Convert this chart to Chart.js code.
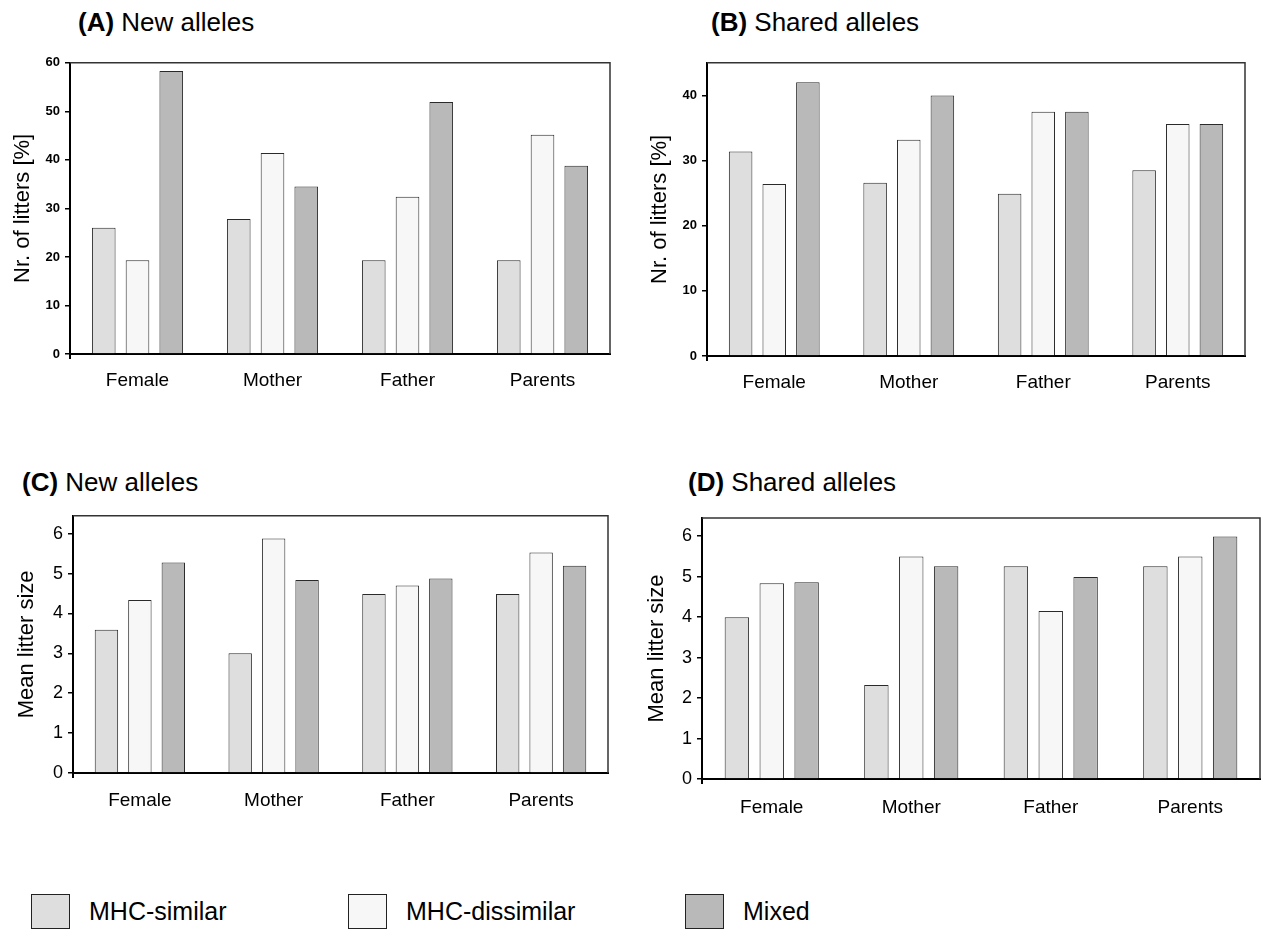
<!DOCTYPE html>
<html>
<head>
<meta charset="utf-8">
<script src="https://cdn.jsdelivr.net/npm/chart.js@4.4.1/dist/chart.umd.min.js"></script>
<style>
  body { margin: 0; background: #fff; width: 1262px; height: 930px; position: relative; overflow: hidden;
         font-family: "Liberation Sans", Arial, sans-serif; color: #000; }
  .panel { position: absolute; }
  .ttl { position: absolute; font-size: 26px; white-space: nowrap; line-height: 1; }
  .ttl b { font-weight: bold; }
  .leg { position: absolute; top: 894px; height: 35px; }
  .leg .box { position: absolute; left: 0; top: 0; width: 37px; height: 33px; border: 1px solid #222; }
  .leg .txt { position: absolute; top: 3px; font-size: 25px; white-space: nowrap; }
</style>
</head>
<body>
<div class="ttl" style="left:78px; top:9px;"><b>(A)</b> New alleles</div>
<div class="ttl" style="left:711px; top:9px;"><b>(B)</b> Shared alleles</div>
<div class="ttl" style="left:22px; top:469px;"><b>(C)</b> New alleles</div>
<div class="ttl" style="left:688px; top:469px;"><b>(D)</b> Shared alleles</div>

<canvas id="chartA" class="panel" style="left:0px; top:50px;" width="620" height="360"></canvas>
<canvas id="chartB" class="panel" style="left:637px; top:50px;" width="620" height="360"></canvas>
<canvas id="chartC" class="panel" style="left:0px; top:500px;" width="620" height="340"></canvas>
<canvas id="chartD" class="panel" style="left:632px; top:500px;" width="630" height="340"></canvas>

<div id="legend"></div>

<script>
// categories and groups
const categories = ["Female", "Mother", "Father", "Parents"];
const groupLabels = ["MHC-similar", "MHC-dissimilar", "Mixed"];
const groupColors = ["#dedede", "#f7f7f7", "#b9b9b9"];

// (A) new alleles, % of litters
const aSimilar = [26.0, 27.8, 19.3, 19.3];
const aDissimilar = [19.3, 41.4, 32.4, 45.2];
const aMixed = [58.3, 34.5, 51.9, 38.8];

// (B) shared alleles, % of litters
const bSimilar = [31.4, 26.6, 24.9, 28.5];
const bDissimilar = [26.4, 33.2, 37.5, 35.6];
const bMixed = [42.0, 40.0, 37.5, 35.6];

// (C) new alleles, mean litter size
const cSimilar = [3.59, 3.0, 4.49, 4.49];
const cDissimilar = [4.34, 5.88, 4.70, 5.53];
const cMixed = [5.28, 4.84, 4.88, 5.20];

// (D) shared alleles, mean litter size
const dSimilar = [4.0, 2.32, 5.26, 5.26];
const dDissimilar = [4.84, 5.5, 4.15, 5.5];
const dMixed = [4.86, 5.26, 4.99, 5.99];

// top/right frame + small tick under the y axis
const framePlugin = {
  id: "frame",
  afterDraw(chart) {
    const { ctx, chartArea: a } = chart;
    ctx.save();
    ctx.strokeStyle = "#333";
    ctx.lineWidth = 1.5;
    ctx.beginPath();
    ctx.moveTo(a.left, a.top);
    ctx.lineTo(a.right, a.top);
    ctx.lineTo(a.right, a.bottom);
    ctx.stroke();
    ctx.strokeStyle = "#000";
    ctx.lineWidth = 2;
    ctx.beginPath();
    ctx.moveTo(a.left, a.bottom);
    ctx.lineTo(a.left, a.bottom + 5);
    ctx.stroke();
    ctx.restore();
  }
};

function makeChart(id, values, opt) {
  const ctx = document.getElementById(id).getContext("2d");
  return new Chart(ctx, {
    type: "bar",
    data: {
      labels: categories,
      datasets: values.map((v, i) => ({
        label: groupLabels[i],
        data: v,
        backgroundColor: groupColors[i],
        borderColor: "#2a2a2a",
        borderWidth: 1,
        borderSkipped: "bottom",
        categoryPercentage: 0.75,
        barPercentage: 0.7
      }))
    },
    options: {
      responsive: false,
      animation: false,
      layout: { padding: { top: opt.padTop, right: opt.padRight, left: 0, bottom: 0 } },
      plugins: { legend: { display: false }, tooltip: { enabled: false } },
      scales: {
        x: {
          grid: { display: false },
          border: { color: "#000", width: 2 },
          ticks: { color: "#000", padding: opt.xPad, font: { family: "Liberation Sans", size: 19 } },
          afterFit: s => { s.height = opt.xHeight; }
        },
        y: {
          min: 0,
          max: opt.max,
          grid: { drawOnChartArea: false, drawTicks: true, tickLength: 5, color: "#000", lineWidth: 1.5 },
          border: { color: "#000", width: 2 },
          ticks: {
            stepSize: opt.step,
            includeBounds: false,
            color: "#000",
            padding: 5,
            font: opt.tickFont
          },
          title: {
            display: true,
            text: opt.yTitle,
            color: "#000",
            padding: { top: opt.titlePad, bottom: 0 },
            font: { family: "Liberation Sans", size: 22 }
          },
          afterFit: s => { s.width = opt.yWidth; }
        }
      }
    },
    plugins: [framePlugin]
  });
}

const smallBold = { family: "Liberation Sans", size: 13, weight: "bold" };
const bigPlain = { family: "Liberation Sans", size: 18 };

makeChart("chartA", [aSimilar, aDissimilar, aMixed], {
  max: 60, step: 10, yTitle: "Nr. of litters [%]", tickFont: smallBold,
  padTop: 11, padRight: 10, yWidth: 70, xHeight: 56, xPad: 7, titlePad: 10
});
makeChart("chartB", [bSimilar, bDissimilar, bMixed], {
  max: 45, step: 10, yTitle: "Nr. of litters [%]", tickFont: smallBold,
  padTop: 11, padRight: 12, yWidth: 70, xHeight: 54, xPad: 7, titlePad: 10
});
makeChart("chartC", [cSimilar, cDissimilar, cMixed], {
  max: 6.45, step: 1, yTitle: "Mean litter size", tickFont: bigPlain,
  padTop: 12, padRight: 12, yWidth: 73, xHeight: 67, xPad: 8, titlePad: 14
});
makeChart("chartD", [dSimilar, dDissimilar, dMixed], {
  max: 6.45, step: 1, yTitle: "Mean litter size", tickFont: bigPlain,
  padTop: 18, padRight: 2, yWidth: 70, xHeight: 61, xPad: 9, titlePad: 12
});

// legend row at the bottom
const legendX = [31, 348, 685];
const legend = document.getElementById("legend");
groupLabels.forEach((lab, i) => {
  const item = document.createElement("div");
  item.className = "leg";
  item.style.left = legendX[i] + "px";
  item.innerHTML = '<div class="box" style="background:' + groupColors[i] + '"></div>' +
    '<div class="txt" style="left:58px">' + lab + '</div>';
  legend.appendChild(item);
});
</script>
</body>
</html>
